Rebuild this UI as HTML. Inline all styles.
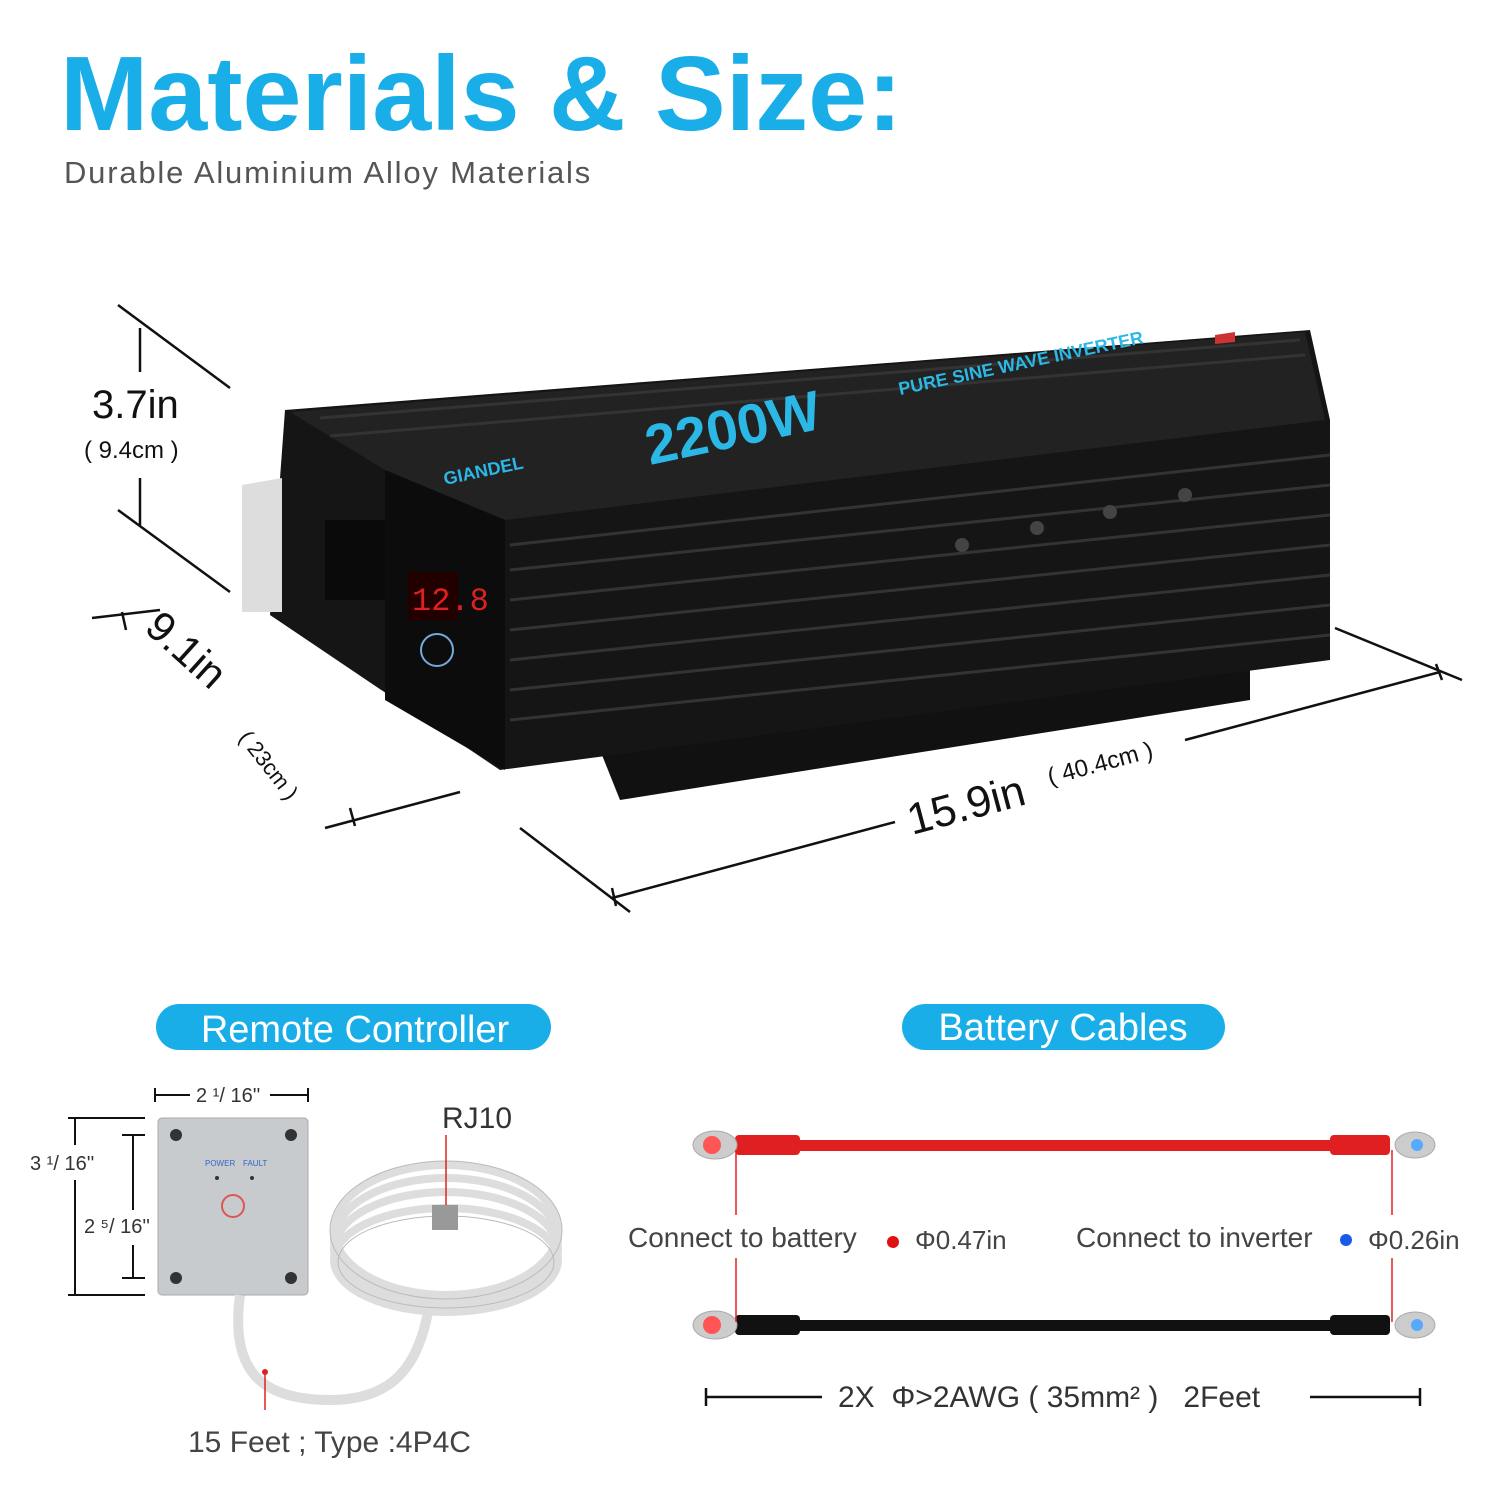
<!DOCTYPE html>
<html><head><meta charset="utf-8"><style>
html,body{margin:0;padding:0;background:#fff;}
body{width:1500px;height:1500px;overflow:hidden;position:relative;font-family:"Liberation Sans",sans-serif;}
</style></head><body>
<svg width="1500" height="1500" viewBox="0 0 1500 1500" xmlns="http://www.w3.org/2000/svg" style="position:absolute;left:0;top:0">
<text x="60" y="130" font-family="Liberation Sans,sans-serif" font-weight="bold" font-size="106" fill="#1aaee8">Materials &amp; Size:</text>
<text x="64" y="183" font-family="Liberation Sans,sans-serif" font-size="31" letter-spacing="1.8" fill="#555">Durable Aluminium Alloy Materials</text>

<g stroke="#111" stroke-width="2.5" fill="none">
<line x1="118" y1="305" x2="230" y2="388"/>
<line x1="118" y1="510" x2="230" y2="592"/>
<line x1="140" y1="328" x2="140" y2="372"/>
<line x1="140" y1="478" x2="140" y2="525"/>
<line x1="92" y1="618" x2="160" y2="610"/>
<line x1="122" y1="612" x2="126" y2="630"/>
<line x1="325" y1="828" x2="460" y2="792"/>
<line x1="350" y1="808" x2="355" y2="826"/>
<line x1="520" y1="828" x2="630" y2="912"/>
<line x1="1335" y1="628" x2="1462" y2="680"/>
<line x1="612" y1="898" x2="895" y2="822"/>
<line x1="1185" y1="740" x2="1440" y2="672"/>
<line x1="1436" y1="664" x2="1442" y2="680"/>
<line x1="612" y1="888" x2="616" y2="906"/>
</g>
<text x="92" y="418" font-size="40" fill="#111">3.7in</text>
<text x="84" y="458" font-size="24" fill="#111">( 9.4cm )</text>
<text transform="translate(143,630) rotate(42)" font-size="42" fill="#111">9.1in</text>
<text transform="translate(238,738) rotate(52)" font-size="22" fill="#111">( 23cm )</text>
<text transform="translate(912,835) rotate(-15)" font-size="44" fill="#111">15.9in</text>
<text transform="translate(1050,785) rotate(-15)" font-size="24" fill="#111">( 40.4cm )</text>

<polygon points="598,745 1250,640 1250,700 620,800" fill="#111"/>
<polygon points="285,410 1310,330 1330,420 1330,660 500,770 270,615" fill="#151515"/>
<polygon points="290,412 1305,332 1325,420 505,520 385,470" fill="#222"/>
<g stroke="#333" stroke-width="3">
<line x1="510" y1="545" x2="1330" y2="455"/>
<line x1="510" y1="570" x2="1330" y2="485"/>
<line x1="510" y1="600" x2="1330" y2="515"/>
<line x1="510" y1="630" x2="1330" y2="545"/>
<line x1="510" y1="660" x2="1330" y2="575"/>
<line x1="510" y1="690" x2="1330" y2="605"/>
<line x1="510" y1="720" x2="1330" y2="635"/>
<line x1="320" y1="418" x2="1300" y2="340"/>
<line x1="330" y1="436" x2="1305" y2="355"/>
</g>
<polygon points="385,470 505,520 505,770 385,700" fill="#0c0c0c"/>
<rect x="408" y="572" width="50" height="48" fill="#200"/>
<text x="412" y="610" font-size="32" fill="#e02020" font-family="Liberation Mono,monospace">12.8</text>
<circle cx="437" cy="650" r="16" fill="none" stroke="#7ad" stroke-width="2"/>
<polygon points="242,485 282,478 282,612 242,612" fill="#ddd"/>
<rect x="325" y="520" width="60" height="80" fill="#0a0a0a"/>
<g fill="#444"><circle cx="962" cy="545" r="7"/><circle cx="1037" cy="528" r="7"/><circle cx="1110" cy="512" r="7"/><circle cx="1185" cy="495" r="7"/></g>
<text transform="translate(650,465) rotate(-12)" font-size="56" font-weight="bold" fill="#2bb8e6">2200W</text>
<text transform="translate(445,485) rotate(-12)" font-size="18" font-weight="bold" fill="#2bb8e6">GIANDEL</text>
<text transform="translate(900,395) rotate(-12)" font-size="18" font-weight="bold" fill="#2bb8e6">PURE SINE WAVE INVERTER</text>
<polygon points="1215,335 1235,332 1235,342 1215,344" fill="#c33"/>

<rect x="156" y="1004" width="395" height="46" rx="23" fill="#1aaee8"/>
<text x="355" y="1042" text-anchor="middle" font-size="38" fill="#fff">Remote Controller</text>
<rect x="902" y="1004" width="323" height="46" rx="23" fill="#1aaee8"/>
<text x="1063" y="1040" text-anchor="middle" font-size="38" fill="#fff">Battery Cables</text>

<g stroke="#111" stroke-width="2">
<line x1="155" y1="1095" x2="190" y2="1095"/><line x1="270" y1="1095" x2="308" y2="1095"/>
<line x1="155" y1="1088" x2="155" y2="1102"/><line x1="308" y1="1088" x2="308" y2="1102"/>
<line x1="68" y1="1118" x2="145" y2="1118"/><line x1="68" y1="1295" x2="145" y2="1295"/>
<line x1="75" y1="1118" x2="75" y2="1145"/><line x1="75" y1="1180" x2="75" y2="1295"/>
<line x1="122" y1="1135" x2="145" y2="1135"/><line x1="122" y1="1278" x2="145" y2="1278"/>
<line x1="133" y1="1135" x2="133" y2="1210"/><line x1="133" y1="1245" x2="133" y2="1278"/>
</g>
<text x="196" y="1102" font-size="20" fill="#333">2 ¹/ 16''</text>
<text x="30" y="1170" font-size="20" fill="#333">3 ¹/ 16''</text>
<text x="84" y="1233" font-size="20" fill="#333">2 ⁵/ 16''</text>
<rect x="158" y="1118" width="150" height="177" rx="4" fill="#c8cbce" stroke="#aaa"/>
<g fill="#333"><circle cx="176" cy="1135" r="6"/><circle cx="291" cy="1135" r="6"/><circle cx="176" cy="1278" r="6"/><circle cx="291" cy="1278" r="6"/></g>
<text x="205" y="1166" font-size="8" fill="#36c">POWER</text><text x="243" y="1166" font-size="8" fill="#36c">FAULT</text>
<circle cx="217" cy="1178" r="2" fill="#333"/><circle cx="252" cy="1178" r="2" fill="#333"/>
<circle cx="233" cy="1206" r="11" fill="none" stroke="#d55" stroke-width="2"/>
<path d="M240,1295 C230,1370 260,1400 330,1400 C390,1400 420,1370 430,1300" fill="none" stroke="#ddd" stroke-width="10"/>
<g fill="none" stroke="#ddd" stroke-width="8">
<ellipse cx="446" cy="1230" rx="112" ry="65"/><ellipse cx="446" cy="1240" rx="112" ry="62"/>
<ellipse cx="446" cy="1250" rx="112" ry="58"/><ellipse cx="446" cy="1260" rx="112" ry="52"/>
</g>
<g fill="none" stroke="#bbb" stroke-width="1"><ellipse cx="446" cy="1230" rx="116" ry="69"/><ellipse cx="446" cy="1262" rx="108" ry="46"/></g>
<rect x="432" y="1205" width="26" height="25" fill="#999"/>
<line x1="446" y1="1135" x2="446" y2="1205" stroke="#d22" stroke-width="1.5"/>
<text x="442" y="1128" font-size="30" fill="#333">RJ10</text>
<line x1="265" y1="1372" x2="265" y2="1410" stroke="#d22" stroke-width="1.5"/>
<circle cx="265" cy="1372" r="3" fill="#d22"/>
<text x="188" y="1452" font-size="30" fill="#444">15 Feet ; Type :4P4C</text>

<rect x="745" y="1140" width="640" height="11" fill="#e02020"/>
<rect x="735" y="1135" width="65" height="20" rx="4" fill="#e02020"/>
<rect x="1330" y="1135" width="60" height="20" rx="4" fill="#e02020"/>
<rect x="745" y="1320" width="640" height="11" fill="#111"/>
<rect x="735" y="1315" width="65" height="20" rx="4" fill="#111"/>
<rect x="1330" y="1315" width="60" height="20" rx="4" fill="#111"/>
<g fill="#ccc" stroke="#aaa">
<ellipse cx="715" cy="1145" rx="22" ry="14"/><ellipse cx="1415" cy="1145" rx="20" ry="13"/>
<ellipse cx="715" cy="1325" rx="22" ry="14"/><ellipse cx="1415" cy="1325" rx="20" ry="13"/>
</g>
<circle cx="712" cy="1145" r="9" fill="#f55"/><circle cx="1417" cy="1145" r="6" fill="#5af"/>
<circle cx="712" cy="1325" r="9" fill="#f55"/><circle cx="1417" cy="1325" r="6" fill="#5af"/>
<g stroke="#d22" stroke-width="1.5"><line x1="736" y1="1150" x2="736" y2="1215"/><line x1="736" y1="1258" x2="736" y2="1322"/>
<line x1="1392" y1="1150" x2="1392" y2="1215"/><line x1="1392" y1="1258" x2="1392" y2="1322"/></g>
<text x="628" y="1247" font-size="28" fill="#444">Connect to battery</text>
<circle cx="893" cy="1242" r="6" fill="#e01010"/>
<text x="915" y="1249" font-size="26" fill="#444">Φ0.47in</text>
<text x="1076" y="1247" font-size="28" fill="#444">Connect to inverter</text>
<circle cx="1346" cy="1240" r="6" fill="#1a5ae8"/>
<text x="1368" y="1249" font-size="26" fill="#444">Φ0.26in</text>
<g stroke="#111" stroke-width="2.5"><line x1="706" y1="1397" x2="822" y2="1397"/><line x1="1310" y1="1397" x2="1420" y2="1397"/>
<line x1="706" y1="1388" x2="706" y2="1406"/><line x1="1420" y1="1388" x2="1420" y2="1406"/></g>
<text x="838" y="1407" font-size="30" fill="#333" xml:space="preserve">2X  Φ&gt;2AWG ( 35mm² )   2Feet</text>
</svg>
</body></html>
